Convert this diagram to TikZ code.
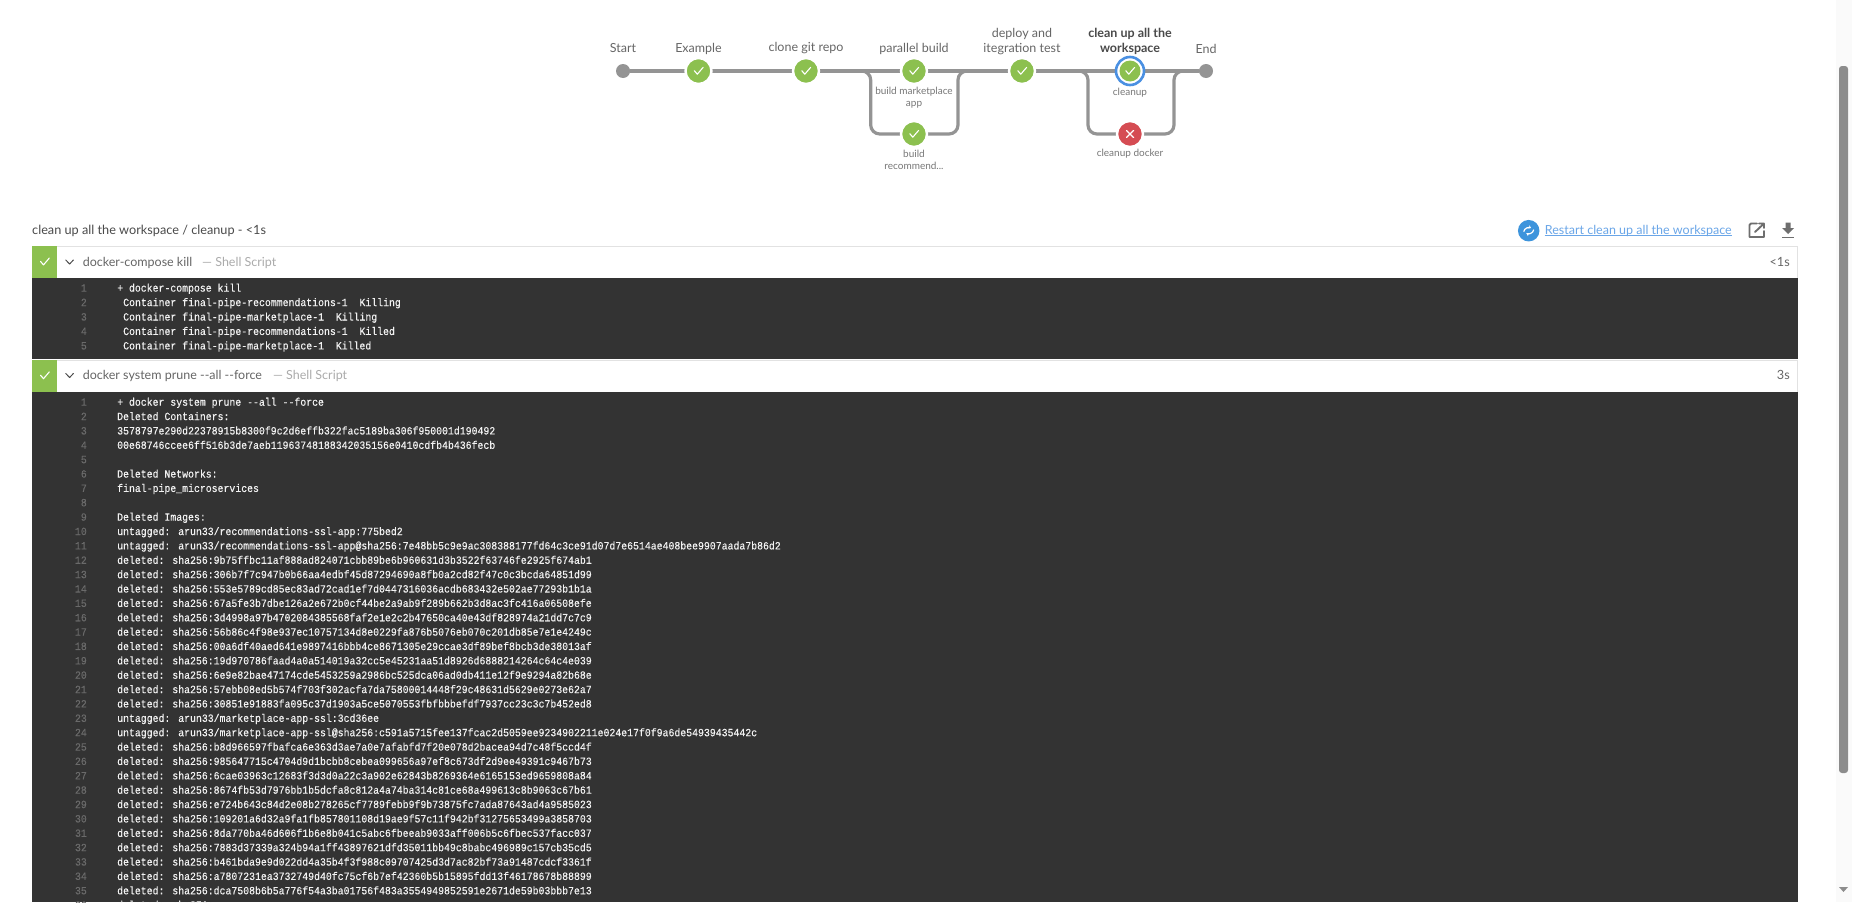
\documentclass[tikz,border=0pt]{standalone}
\usepackage{fontspec}
\usetikzlibrary{arrows.meta,backgrounds}
\setmainfont{Lato}
\newfontfamily\logfont[FakeStretch=0.895,FakeBold=0.25]{Liberation Mono}
\definecolor{okgreen}{HTML}{8CC04F}
\definecolor{badred}{HTML}{D54C53}
\definecolor{ringblue}{HTML}{4A90E2}
\definecolor{pipegrey}{HTML}{949494}
\definecolor{darkbg}{HTML}{333333}
\definecolor{rowline}{HTML}{E2E2E2}
\definecolor{txtdark}{HTML}{4A4A4A}
\definecolor{txtmid}{HTML}{666666}
\definecolor{txtsub}{HTML}{777777}
\definecolor{txtlight}{HTML}{ABABAB}
\definecolor{linkblue}{HTML}{6AA6E8}
\definecolor{logwhite}{HTML}{F2F2F2}
\definecolor{lognum}{HTML}{6A6A6A}
\definecolor{icongrey}{HTML}{6E6E6E}
\definecolor{restartblue}{HTML}{3D94DC}
\definecolor{track}{HTML}{FAFAFA}
\definecolor{thumb}{HTML}{8C8C8C}
\tikzset{
  x=1pt,y=-1pt,
  pipe/.style={draw=pipegrey,line width=3.2pt,line cap=round},
  endstage/.style={circle,fill=pipegrey,minimum size=14pt,inner sep=0pt},
  okstage/.style={circle,fill=okgreen,draw=white,line width=2.4pt,minimum size=26pt,inner sep=0pt},
  badstage/.style={circle,fill=badred,draw=white,line width=2.4pt,minimum size=26pt,inner sep=0pt},
  stagelabel/.style={font=\fontsize{12.5}{14.5}\selectfont,text=txtmid,align=center,inner sep=0pt},
  sublabel/.style={font=\fontsize{10}{12}\selectfont,text=txtsub,align=center,inner sep=0pt},
  mark line/.style={draw=white,line width=1.1pt,line cap=round,line join=round},
  rowbox/.style={draw=rowline,fill=white,line width=1pt},
  stepname/.style={font=\fontsize{12.5}{15}\selectfont,text=txtdark!85,anchor=base west,inner sep=0pt},
  steptype/.style={font=\fontsize{12.5}{15}\selectfont,text=txtlight,anchor=base west,inner sep=0pt},
  steptime/.style={font=\fontsize{12.7}{15}\selectfont,text=txtmid,anchor=base east,inner sep=0pt},
  logtext/.style={font=\logfont\fontsize{11}{13}\selectfont,text=logwhite,anchor=base west,inner sep=0pt},
  lognumber/.style={font=\logfont\fontsize{11}{13}\selectfont,text=lognum,anchor=base east,inner sep=0pt},
  chevron/.style={draw=txtdark,line width=1pt,line cap=round,line join=round},
  iconline/.style={draw=icongrey,line width=1.9pt},
}
\newcommand{\chkmark}[1]{\draw[mark line] ([shift={(-4.2pt,0.3pt)}]#1.center) -- ([shift={(-1.2pt,-3.2pt)}]#1.center) -- ([shift={(4.6pt,3.6pt)}]#1.center);}
\newcommand{\lgA}[3]{\node[lognumber] (anum#1) at (87,{291.6+14.45*(#1-1)}) {#1};
  \node[logtext] (aline#1) at (#2,{291.6+14.45*(#1-1)}) {#3};}
\newcommand{\lgB}[2]{\node[lognumber] (bnum#1) at (87,{405.7+14.37*(#1-1)}) {#1};
  \node[logtext] (bline#1) at (117,{405.7+14.37*(#1-1)}) {#2};}
\begin{document}
\begin{tikzpicture}
\useasboundingbox (0,0) rectangle (1852,902);

% pipeline stages
\coordinate (b1in) at (860,71);
\coordinate (b1left) at (870.7,71);
\coordinate (b1low) at (870.7,134);
\coordinate (b1lowr) at (958,134);
\coordinate (b1right) at (958,71);
\coordinate (b1out) at (969,71);
\coordinate (b2in) at (1077,71);
\coordinate (b2left) at (1088,71);
\coordinate (b2low) at (1088,134);
\coordinate (b2lowr) at (1174,134);
\coordinate (b2right) at (1174,71);
\coordinate (b2out) at (1185,71);
\node[endstage] (start) at (623,71) {};
\node[endstage] (end) at (1206,71) {};
\node[okstage] (example) at (698.5,71) {};
\node[okstage] (clone) at (806,71) {};
\node[okstage] (market) at (914,71) {};
\node[okstage] (recomm) at (914,134) {};
\node[okstage] (deploy) at (1022,71) {};
\node[circle,draw=ringblue,line width=2.6pt,minimum size=28pt,inner sep=0pt,fill=white] (cleanring) at (1130,71) {};
\node[circle,fill=okgreen,minimum size=21pt,inner sep=0pt] (cleanup) at (1130,71) {};
\node[badstage] (cdocker) at (1130,134) {};
\begin{scope}[on background layer]
\fill[white] (0,0) rectangle (1852,902);
\fill[track] (1836,0) rectangle (1852,902);
\fill[thumb,rounded corners=3pt] (1839,66) rectangle (1848,773);
\fill[thumb] (1839,887) -- (1848,887) -- (1843.5,892) -- cycle;
\draw[pipe] (start) -- (example);
\draw[pipe] (example) -- (clone);
\draw[pipe] (clone) -- (market);
\draw[pipe] (market) -- (deploy);
\draw[pipe] (deploy) -- (cleanring);
\draw[pipe] (cleanring) -- (end);
\draw[pipe,rounded corners=9pt] (b1in) -- (b1left) -- (b1low) -- (recomm);
\draw[pipe,rounded corners=9pt] (recomm) -- (b1lowr) -- (b1right) -- (b1out);
\draw[pipe,rounded corners=9pt] (b2in) -- (b2left) -- (b2low) -- (cdocker);
\draw[pipe,rounded corners=9pt] (cdocker) -- (b2lowr) -- (b2right) -- (b2out);
\end{scope}
\chkmark{example}\chkmark{clone}\chkmark{market}\chkmark{recomm}\chkmark{deploy}\chkmark{cleanup}
\draw[mark line] ([shift={(-3.6pt,-3.6pt)}]cdocker.center) -- ([shift={(3.6pt,3.6pt)}]cdocker.center);
\draw[mark line] ([shift={(-3.6pt,3.6pt)}]cdocker.center) -- ([shift={(3.6pt,-3.6pt)}]cdocker.center);

% stage labels
\node[stagelabel] (lstart) at (623,48.5) {Start};
\node[stagelabel] (lexample) at (698.5,48.5) {Example};
\node[stagelabel] (lclone) at (806,48.5) {clone git repo};
\node[stagelabel] (lparallel) at (914,48.5) {parallel build};
\node[stagelabel] (ldeploy) at (1022,41.5) {deploy and\\itegration test};
\node[stagelabel,text=txtdark,font=\fontsize{12.5}{14.5}\selectfont\bfseries] (lclean) at (1130,41.5) {clean up all the\\workspace};
\node[stagelabel] (lend) at (1206,48.5) {End};
\node[sublabel] (lmarket) at (914,97.8) {build marketplace\\app};
\node[sublabel] (lrecomm) at (914,160) {build\\recommend...};
\node[sublabel] (lcleanup) at (1130,92.8) {cleanup};
\node[sublabel] (lcdocker) at (1130,153.5) {cleanup docker};

% heading and actions
\node[font=\fontsize{12.7}{15}\selectfont,text=txtdark,anchor=base west,inner sep=0pt] (heading) at (32,234.3) {clean up all the workspace / cleanup - <1s};
\node[circle,fill=restartblue,minimum size=21.5pt,inner sep=0pt] (restarticon) at (1528.7,230.7) {};
\draw[white,line width=1.2pt,-{Stealth[length=3pt,width=3.5pt]}] ([shift={(-5pt,-1pt)}]restarticon.center) arc[start angle=170,end angle=60,radius=5pt];
\draw[white,line width=1.2pt,-{Stealth[length=3pt,width=3.5pt]}] ([shift={(5pt,1pt)}]restarticon.center) arc[start angle=-10,end angle=-120,radius=5pt];
\node[font=\fontsize{12.5}{15}\selectfont,text=linkblue,anchor=base west,inner sep=0pt] (restart) at (1544.7,234) {Restart clean up all the workspace};
\draw[linkblue,line width=0.8pt] ([yshift=-1.5pt]restart.base west) -- ([yshift=-1.5pt]restart.base east);
\draw[iconline,line cap=round,line join=round] (1757,223.5) -- (1751,223.5) arc[start angle=90,end angle=180,radius=1.5pt] -- (1749.5,237) -- (1764,237) -- (1764,231);
\draw[iconline,line cap=round,line join=round] (1755,232) -- (1764,223.5) (1759,223.5) -- (1764,223.5) -- (1764,228);
\fill[icongrey] (1785.5,222.5) -- (1790.5,222.5) -- (1790.5,228) -- (1794,228) -- (1788,234) -- (1782,228) -- (1785.5,228) -- cycle;
\fill[icongrey] (1781.7,236.5) rectangle (1794.2,238);

% first step
\draw[rowbox] (32.5,246.5) rectangle (1797.2,278);
\fill[okgreen] (32,246) rectangle (56.5,278);
\coordinate (chk1) at (44.7,261.7);
\chkmark{chk1}
\draw[chevron] (65.8,260) -- (69.6,264) -- (73.4,260);
\node[stepname] (s1name) at (82.6,266.5) {docker-compose kill};
\node[steptype] (s1type) at (202,266.5) {— Shell Script};
\node[steptime] (s1time) at (1790,266.5) {<1s};
\fill[darkbg] (32,278) rectangle (1798,359);
\lgA{1}{117}{+ docker-compose kill}
\lgA{2}{123}{Container final-pipe-recommendations-1\ \ Killing}
\lgA{3}{123}{Container final-pipe-marketplace-1\ \ Killing}
\lgA{4}{123}{Container final-pipe-recommendations-1\ \ Killed}
\lgA{5}{123}{Container final-pipe-marketplace-1\ \ Killed}

% second step
\draw[rowbox] (32.5,360.5) rectangle (1797.2,392);
\fill[okgreen] (32,360) rectangle (56.5,392);
\coordinate (chk2) at (44.7,375.5);
\chkmark{chk2}
\draw[chevron] (65.8,373.5) -- (69.6,377.5) -- (73.4,373.5);
\node[stepname] (s2name) at (82.6,379.6) {docker system prune -{}-all -{}-force};
\node[steptype] (s2type) at (272.8,379.6) {— Shell Script};
\node[steptime] (s2time) at (1790,379.6) {3s};
\fill[darkbg] (32,392) rectangle (1798,902);
\lgB{1}{+ docker system prune --all --force}
\lgB{2}{Deleted Containers:}
\lgB{3}{3578797e290d22378915b8300f9c2d6effb322fac5189ba306f950001d190492}
\lgB{4}{00e68746ccee6ff516b3de7aeb11963748188342035156e0410cdfb4b436fecb}
\lgB{5}{}
\lgB{6}{Deleted Networks:}
\lgB{7}{final-pipe\_microservices}
\lgB{8}{}
\lgB{9}{Deleted Images:}
\lgB{10}{untagged: arun33/recommendations-ssl-app:775bed2}
\lgB{11}{untagged: arun33/recommendations-ssl-app@sha256:7e48bb5c9e9ac308388177fd64c3ce91d07d7e6514ae408bee9907aada7b86d2}
\lgB{12}{deleted: sha256:9b75ffbc11af888ad824071cbb89be6b960631d3b3522f63746fe2925f674ab1}
\lgB{13}{deleted: sha256:306b7f7c947b0b66aa4edbf45d87294690a8fb0a2cd82f47c0c3bcda64851d99}
\lgB{14}{deleted: sha256:553e5789cd85ec83ad72cad1ef7d0447316036acdb683432e502ae77293b1b1a}
\lgB{15}{deleted: sha256:67a5fe3b7dbe126a2e672b0cf44be2a9ab9f289b662b3d8ac3fc416a06508efe}
\lgB{16}{deleted: sha256:3d4998a97b4702084385568faf2e1e2c2b47650ca40e43df828974a21dd7c7c9}
\lgB{17}{deleted: sha256:56b86c4f98e937ec10757134d8e0229fa876b5076eb070c201db85e7e1e4249c}
\lgB{18}{deleted: sha256:00a6df40aed641e9897416bbb4ce8671305e29ccae3df89bef8bcb3de38013af}
\lgB{19}{deleted: sha256:19d970786faad4a0a514019a32cc5e45231aa51d8926d6888214264c64c4e039}
\lgB{20}{deleted: sha256:6e9e82bae47174cde5453259a2986bc525dca06ad0db411e12f9e9294a82b68e}
\lgB{21}{deleted: sha256:57ebb08ed5b574f703f302acfa7da75800014448f29c48631d5629e0273e62a7}
\lgB{22}{deleted: sha256:30851e91883fa095c37d1903a5ce5070553fbfbbbefdf7937cc23c3c7b452ed8}
\lgB{23}{untagged: arun33/marketplace-app-ssl:3cd36ee}
\lgB{24}{untagged: arun33/marketplace-app-ssl@sha256:c591a5715fee137fcac2d5059ee9234902211e024e17f0f9a6de54939435442c}
\lgB{25}{deleted: sha256:b8d966597fbafca6e363d3ae7a0e7afabfd7f20e078d2bacea94d7c48f5ccd4f}
\lgB{26}{deleted: sha256:985647715c4704d9d1bcbb8cebea099656a97ef8c673df2d9ee49391c9467b73}
\lgB{27}{deleted: sha256:6cae03963c12683f3d3d0a22c3a902e62843b8269364e6165153ed9659808a84}
\lgB{28}{deleted: sha256:8674fb53d7976bb1b5dcfa8c812a4a74ba314c81ce68a499613c8b9063c67b61}
\lgB{29}{deleted: sha256:e724b643c84d2e08b278265cf7789febb9f9b73875fc7ada87643ad4a9585023}
\lgB{30}{deleted: sha256:109201a6d32a9fa1fb857801108d19ae9f57c11f942bf31275653499a3858703}
\lgB{31}{deleted: sha256:8da770ba46d606f1b6e8b041c5abc6fbeeab9033aff006b5c6fbec537facc037}
\lgB{32}{deleted: sha256:7883d37339a324b94a1ff43897621dfd35011bb49c8babc496989c157cb35cd5}
\lgB{33}{deleted: sha256:b461bda9e9d022dd4a35b4f3f988c09707425d3d7ac82bf73a91487cdcf3361f}
\lgB{34}{deleted: sha256:a7807231ea3732749d40fc75cf6b7ef42360b5b15895fdd13f46178678b88899}
\lgB{35}{deleted: sha256:dca7508b6b5a776f54a3ba01756f483a3554949852591e2671de59b03bbb7e13}
\lgB{36}{deleted: sha256:}
\end{tikzpicture}
\end{document}
